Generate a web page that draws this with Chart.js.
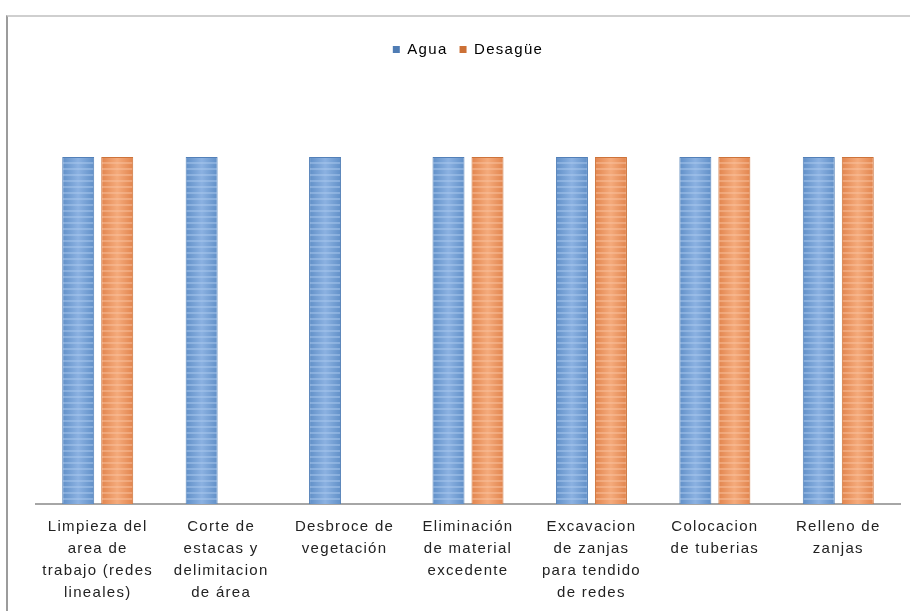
<!DOCTYPE html>
<html>
<head>
<meta charset="utf-8">
<script src="https://cdn.jsdelivr.net/npm/chart.js@4/dist/chart.umd.min.js"></script>
<style>
  html, body { margin: 0; padding: 0; background: #fff; overflow: hidden; }
  #frame {
    position: absolute; left: 6px; top: 15px; width: 910px; height: 600px;
    border-left: 2px solid #9c9c9c; border-top: 2px solid #cfcfcf;
  }
  #wrap { position: absolute; left: 0; top: 0; width: 910px; height: 616px; }
</style>
</head>
<body>
<div id="frame"></div>
<div id="wrap"><canvas id="grafico" width="910" height="616"></canvas></div>
<script>
const actividades = [
  ['Limpieza del', 'area de', 'trabajo (redes', 'lineales)'],
  ['Corte de', 'estacas y', 'delimitacion', 'de área'],
  ['Desbroce de', 'vegetación'],
  ['Eliminación', 'de material', 'excedente'],
  ['Excavacion', 'de zanjas', 'para tendido', 'de redes'],
  ['Colocacion', 'de tuberias'],
  ['Relleno de', 'zanjas']
];
const agua = [1, 1, 1, 1, 1, 1, 1];
const desague = [1, null, null, 1, 1, 1, 1];

const CAT_PCT = 0.632;
const BAR_PCT = 0.82;

// striped fill like the office-style bars, aligned to each bar's left edge
function rayado(c, oscuro, claro, raya) {
  const chart = c.chart;
  const xs = chart.scales.x;
  if (!xs || !chart.chartArea) return oscuro;
  const catW = xs.width / actividades.length;
  const slot = catW * CAT_PCT / 2;
  const w = Math.round(slot * BAR_PCT);
  const centro = xs.getPixelForValue(c.dataIndex) + (c.datasetIndex - 0.5) * slot;
  const izq = centro - w / 2;
  const tile = document.createElement('canvas');
  tile.width = w; tile.height = 6;
  const t = tile.getContext('2d');
  const g = t.createLinearGradient(0, 0, w, 0);
  g.addColorStop(0, oscuro);
  g.addColorStop(0.5, claro);
  g.addColorStop(1, oscuro);
  t.fillStyle = g;
  t.fillRect(0, 0, w, 6);
  t.fillStyle = raya;
  t.fillRect(0, 0, w, 2);
  const p = chart.ctx.createPattern(tile, 'repeat');
  p.setTransform(new DOMMatrix().translate(izq, 0));
  return p;
}

// extra room between legend and plot
const espacioLeyenda = {
  id: 'espacioLeyenda',
  beforeInit(chart) {
    const fit = chart.legend.fit;
    chart.legend.fit = function () {
      fit.bind(chart.legend)();
      this.height += 90;
    };
  }
};

// looser letter spacing for every text on the canvas
const espaciado = {
  id: 'espaciado',
  beforeInit(chart) { chart.ctx.letterSpacing = '1.3px'; },
  beforeUpdate(chart) { chart.ctx.letterSpacing = '1.3px'; },
  beforeDraw(chart) { chart.ctx.letterSpacing = '1.3px'; }
};

new Chart(document.getElementById('grafico').getContext('2d'), {
  type: 'bar',
  data: {
    labels: actividades,
    datasets: [
      {
        label: 'Agua',
        data: agua,
        backgroundColor: c => rayado(c, '#6190c8', '#8cb2e2', 'rgba(175,205,240,0.45)'),
        borderColor: '#5380b8',
        borderWidth: 1,
        categoryPercentage: CAT_PCT,
        barPercentage: BAR_PCT
      },
      {
        label: 'Desagüe',
        data: desague,
        backgroundColor: c => rayado(c, '#e2854e', '#f5ab7c', 'rgba(250,198,165,0.45)'),
        borderColor: '#cd733a',
        borderWidth: 1,
        categoryPercentage: CAT_PCT,
        barPercentage: BAR_PCT
      }
    ]
  },
  options: {
    responsive: false,
    animation: false,
    layout: { padding: { top: 30, left: 36, right: 10, bottom: 0 } },
    plugins: {
      tooltip: { enabled: false },
      legend: {
        position: 'top',
        labels: {
          boxWidth: 7,
          boxHeight: 7,
          padding: 12,
          color: '#222',
          font: { family: 'Liberation Sans', size: 15 },
          generateLabels: chart => chart.data.datasets.map((ds, i) => ({
            text: ds.label,
            fillStyle: i === 0 ? '#4f7cb4' : '#cc7036',
            strokeStyle: i === 0 ? '#4f7cb4' : '#cc7036',
            lineWidth: 0,
            datasetIndex: i
          }))
        }
      }
    },
    scales: {
      x: {
        grid: { display: false, drawTicks: false },
        border: { color: '#a6a6a6', width: 2 },
        ticks: {
          autoSkip: false,
          maxRotation: 0,
          padding: 12,
          color: '#222',
          font: { family: 'Liberation Sans', size: 15, lineHeight: 1.467 }
        }
      },
      y: {
        display: false,
        min: 0,
        max: 1
      }
    }
  },
  plugins: [espaciado, espacioLeyenda]
});
</script>
</body>
</html>
